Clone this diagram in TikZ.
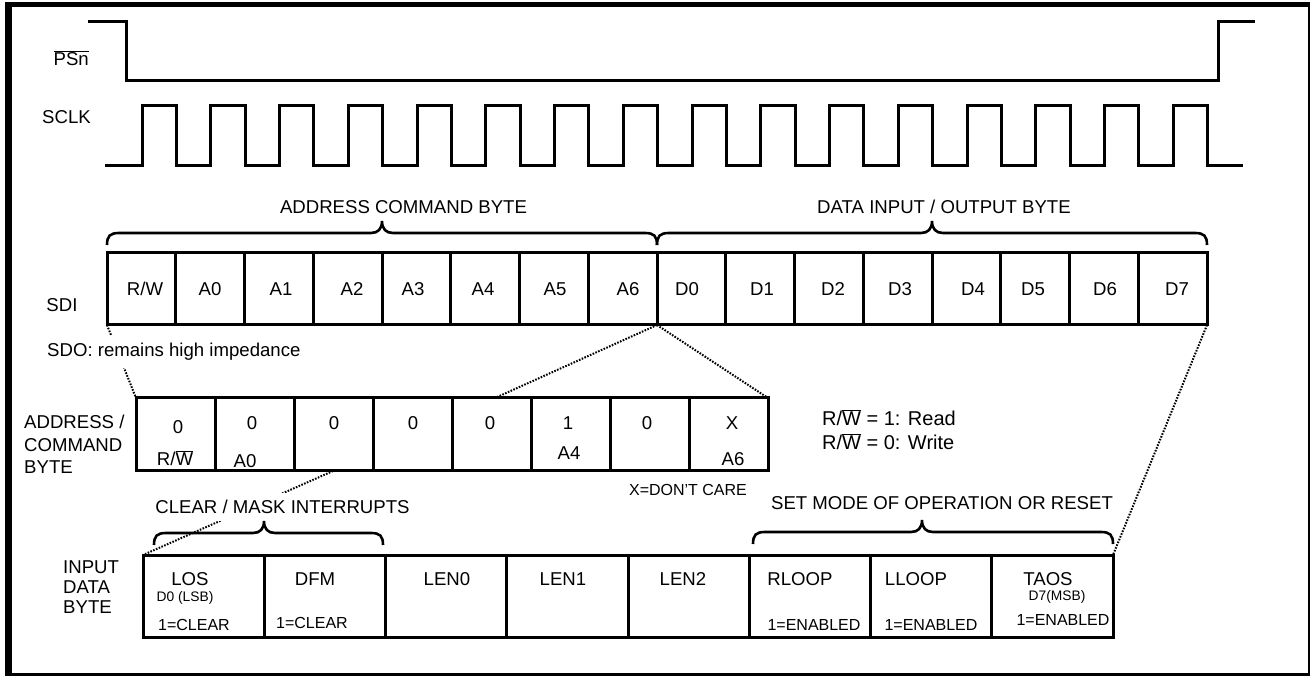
\documentclass[tikz,border=0pt]{standalone}
\usepackage{fontspec}
\setmainfont{Liberation Sans}
\usetikzlibrary{calc}
\newcommand\fs[1]{\fontsize{#1}{#1}\selectfont}
\newcommand\tbrace[4]{\draw[bracestyle] (#1,#4+12) .. controls (#1,#4+3) and (#1+3,#4) .. (#1+12,#4) -- (#3-11,#4) .. controls (#3-4,#4) and (#3,#4-4) .. (#3,#4-12) .. controls (#3,#4-4) and (#3+4,#4) .. (#3+11,#4) -- (#2-12,#4) .. controls (#2-3,#4) and (#2,#4+3) .. (#2,#4+12);}
\begin{document}
\begin{tikzpicture}[x=1pt,y=-1pt,
  wave/.style={line width=3pt,line join=miter},
  bracestyle/.style={line width=2.6pt},
  cellbox/.style={draw,line width=3pt,outer sep=0pt,inner sep=0pt,anchor=north west},
  scell/.style={cellbox,minimum width=68.75pt,minimum height=72pt},
  acell/.style={cellbox,minimum width=79pt,minimum height=72pt},
  dcell/.style={cellbox,minimum width=121.25pt,minimum height=82pt},
  lbl/.style={inner sep=0pt,font=\fs{18.6}},
  slbl/.style={inner sep=0pt,font=\fs{16}},
  tlbl/.style={inner sep=0pt,font=\fs{13.8}},
  dots/.style={line width=2pt,dash pattern=on 1.6pt off 1.4pt},
  blank/.style={fill=white,inner xsep=2pt,inner ysep=7pt}
]
\useasboundingbox (0,0) rectangle (1310,676);
% frame
\fill (5,2) rectangle (12,676);
\fill (5,2) rectangle (1310,7);
\fill (1308,2) rectangle (1310,676);
\fill (5,673) rectangle (1310,676);

% signals
\node[lbl,anchor=east] (psn) at (89,58) {$\overline{\mbox{PSn}}$};
\draw[wave] (88,22) -- (126,22) -- (126,81) -- (1218,81) -- (1218,22) -- (1255,22);
\node[lbl,anchor=west] (sclk) at (42,117) {SCLK};
\draw[wave] (105,166) \foreach \i in {0,...,15} { -- ({142+68.75*\i},166) -- ({142+68.75*\i},106) -- ({176.4+68.75*\i},106) -- ({176.4+68.75*\i},166) } -- (1243,166);

% SDI row
\node[lbl] (acb) at (403.5,207) {ADDRESS COMMAND BYTE};
\node[lbl] (dio) at (944,207) {DATA INPUT / OUTPUT BYTE};
\tbrace{107}{657}{382}{233}
\tbrace{657}{1207}{932}{233}
\node[lbl] (sdi) at (62,305) {SDI};
\foreach \k in {1,...,16}
  \node[scell] (s\k) at ({107+68.75*(\k-1)},253) {};
\foreach \t/\x [count=\k] in {{R/W}/145,A0/210,A1/281,A2/352,A3/413,A4/483,A5/555,A6/628,D0/687,D1/762,D2/833,D3/900,D4/973,D5/1033,D6/1105,D7/1177}
  \node[lbl] (st\k) at (\x,289) {\t};

% address row
\foreach \k in {1,...,8}
  \node[acell] (a\k) at ({136+79*(\k-1)},398) {};
\coordinate (c1) at (495,398);
\coordinate (c2) at (333,471);

% data row
\foreach \k in {1,...,8}
  \node[dcell] (d\k) at ({143+121.25*(\k-1)},555) {};

% dotted connectors
\draw[dots] (s1.south west) -- (a1.north west);
\draw[dots] (s8.south east) -- (c1);
\draw[dots] (s8.south east) -- (a8.north east);
\draw[dots] (s16.south east) -- (d8.north east);
\draw[dots] (c2) -- (d1.north west);

\node[lbl,anchor=west,blank] (sdo) at (45,352) {SDO: remains high impedance};
\node[lbl,blank] (cmi) at (282.5,507) {CLEAR / MASK INTERRUPTS};
\node[lbl] (smo) at (942,503) {SET MODE OF OPERATION OR RESET};
\tbrace{154}{383}{264}{533}
\tbrace{753}{1113}{922}{532}

% redraw boxes on top
\foreach \k in {1,...,16} \draw[line width=3pt] (s\k.north west) rectangle (s\k.south east);
\foreach \k in {1,...,8} \draw[line width=3pt] (a\k.north west) rectangle (a\k.south east);
\foreach \k in {1,...,8} \draw[line width=3pt] (d\k.north west) rectangle (d\k.south east);

% address labels
\node[lbl,anchor=west,align=left,font=\fontsize{18.6}{22.5}\selectfont] (acl) at (24,444.5) {ADDRESS /\\COMMAND\\BYTE};
\node[lbl] (a1v) at (178,427) {0};
\node[lbl] (a1n) at (175,458) {R/$\overline{\mbox{W}}$};
\node[lbl] (a2v) at (252,423) {0};
\node[lbl] (a2n) at (245,461) {A0};
\node[lbl] (a3v) at (334,423) {0};
\node[lbl] (a4v) at (413,423) {0};
\node[lbl] (a5v) at (490,423) {0};
\node[lbl] (a6v) at (568,423) {1};
\node[lbl] (a6n) at (569,453) {A4};
\node[lbl] (a7v) at (647,423) {0};
\node[lbl] (a8v) at (732,423) {X};
\node[lbl] (a8n) at (733,459) {A6};
\node[slbl] (xdc) at (688,490) {X=DON'T CARE};
\node[lbl,anchor=west,font=\fs{20}] (rw1) at (822,418) {R/$\overline{\mbox{W}}$ = 1: Read};
\node[lbl,anchor=west,font=\fs{20}] (rw0) at (822,442) {R/$\overline{\mbox{W}}$ = 0: Write};

% data labels
\node[lbl,anchor=west,align=left,font=\fontsize{18.6}{20}\selectfont] (idb) at (63,587) {INPUT\\DATA\\BYTE};
\node[lbl] (d1a) at (190,579) {LOS};
\node[tlbl] (d1b) at (185,598) {D0 (LSB)};
\node[slbl] (d1c) at (194,625) {1=CLEAR};
\node[lbl] (d2a) at (315,579) {DFM};
\node[slbl] (d2c) at (312,623) {1=CLEAR};
\node[lbl] (d3a) at (447,579) {LEN0};
\node[lbl] (d4a) at (563,579) {LEN1};
\node[lbl] (d5a) at (683,579) {LEN2};
\node[lbl] (d6a) at (800,579) {RLOOP};
\node[slbl] (d6c) at (814,625) {1=ENABLED};
\node[lbl] (d7a) at (916,579) {LLOOP};
\node[slbl] (d7c) at (931,625) {1=ENABLED};
\node[lbl] (d8a) at (1048,579) {TAOS};
\node[tlbl] (d8b) at (1057,597) {D7(MSB)};
\node[slbl] (d8c) at (1063,620) {1=ENABLED};
\end{tikzpicture}
\end{document}
